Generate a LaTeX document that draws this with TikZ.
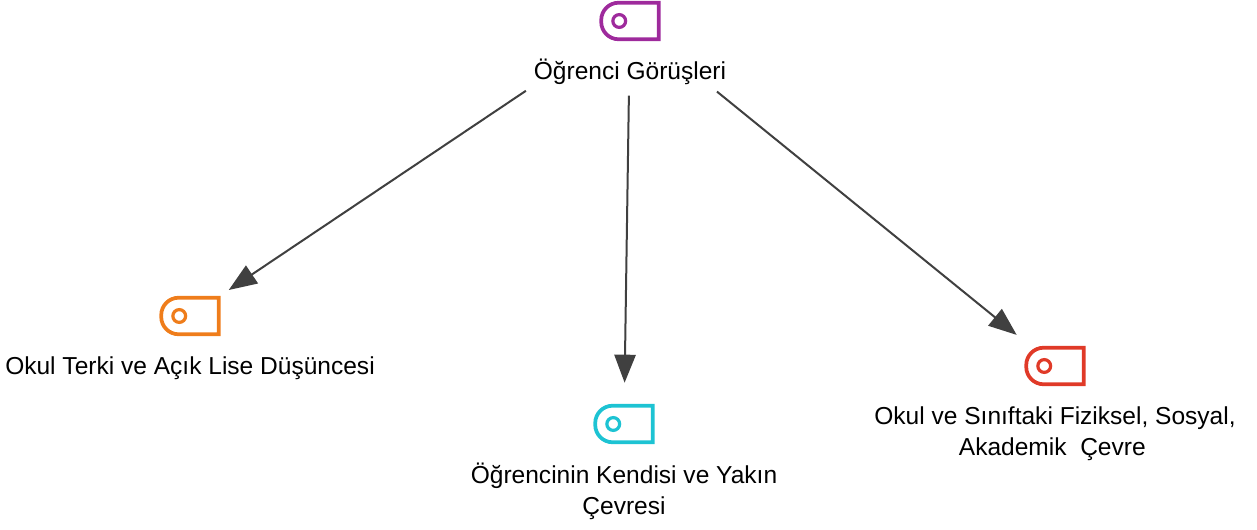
\documentclass[tikz,border=0pt]{standalone}
\usepackage{fontspec}
\setmainfont{Liberation Sans}
\usetikzlibrary{positioning}
\usetikzlibrary{calc}
\usetikzlibrary{arrows.meta}

\definecolor{tagPurple}{HTML}{9E2A9C}
\definecolor{tagOrange}{HTML}{EF7D1B}
\definecolor{tagCyan}{HTML}{1DC3D3}
\definecolor{tagRed}{HTML}{E03A28}
\definecolor{arrowGray}{HTML}{404040}

\tikzset{
  tagbox/.style={minimum width=42.75pt,minimum height=27pt,inner sep=0pt},
  tagline/.style={line width=2.8pt,line join=miter},
  tagtext/.style={align=center,font=\fontsize{18.4}{23.2}\selectfont,text=black},
  toparrow/.style={-{Triangle[length=21pt,width=16pt]},line width=1.5pt,draw=arrowGray,color=arrowGray}
}

\newcommand{\tagicon}[4]{
\node[tagbox](#1) at (#2,#3){};
\draw[tagline,#4] (#1.north east) -- (#1.south east) -- ($(#1.south west)+(20,0)$)
  [rounded corners=13pt] -- (#1.south west) -- (#1.north west) [sharp corners] -- cycle;
\draw[line width=2.4pt,#4] ($(#1.west)+(18,0)$) circle (4.8pt);
}

\begin{document}
\begin{tikzpicture}[x=0.75pt,y=-0.75pt]
\useasboundingbox (0,0) rectangle (1257,530);

\tagicon{iconRoot}{630}{21}{tagPurple}
\tagicon{iconTerk}{190}{316}{tagOrange}
\tagicon{iconKendi}{624}{424}{tagCyan}
\tagicon{iconCevre}{1055}{366}{tagRed}

\node[tagtext](labelRoot) at ($(iconRoot)+(0,51)$){Öğrenci Görüşleri};
\node[tagtext](labelTerk) at ($(iconTerk)+(0,52)$){Okul Terki ve Açık Lise Düşüncesi};
\node[tagtext](labelKendi) at ($(iconKendi)+(0,67)$){Öğrencinin Kendisi ve Yakın\\Çevresi};
\node[tagtext](labelCevre) at ($(iconCevre)+(0,68)$){Okul ve Sınıftaki Fiziksel, Sosyal,\\Akademik\ \ Çevre\hspace*{4pt}};

\path
(iconRoot.center) edge[toparrow,shorten <=94pt,shorten >=35pt] (iconTerk.center)
(iconRoot.center) edge[toparrow,shorten <=56pt,shorten >=31pt] (iconKendi.center)
(iconRoot.center) edge[toparrow,shorten <=84pt,shorten >=37pt] (iconCevre.center);
\end{tikzpicture}
\end{document}
